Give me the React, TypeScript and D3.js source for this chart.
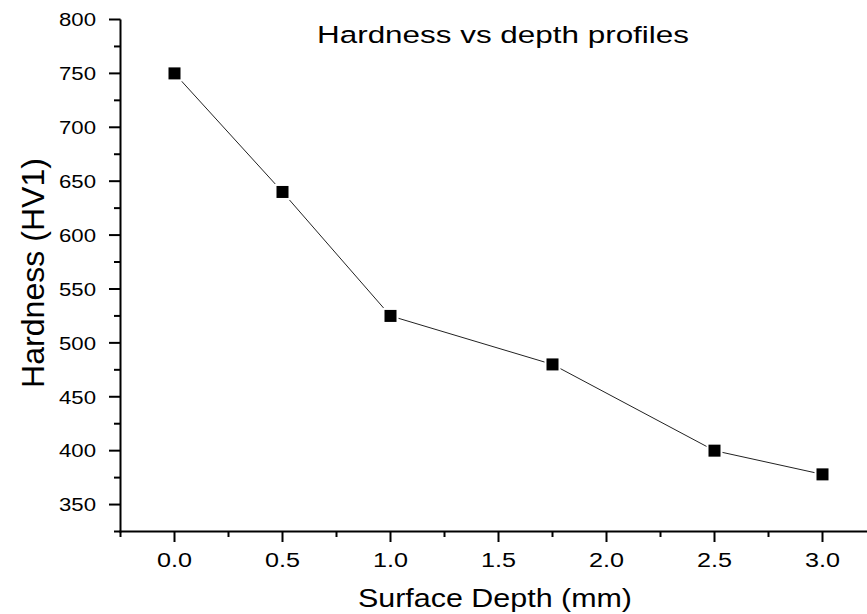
import React from "react";
import * as d3 from "d3";

const depths = [0, 0.5, 1.0, 1.75, 2.5, 3.0];
const hardness = [750, 640, 525, 480, 400, 378];
const xTicks = [0, 0.5, 1.0, 1.5, 2.0, 2.5, 3.0];
const yTicks = [350, 400, 450, 500, 550, 600, 650, 700, 750, 800];
const titleText = "Hardness vs depth profiles";
const xLabel = "Surface Depth (mm)";
const yLabel = "Hardness (HV1)";

const W = 867;
const H = 614;
const FONT = "'Liberation Sans', Arial, sans-serif";

export default function App() {
  const x = d3.scaleLinear().domain([-0.25, 3.25]).range([120.5, 876.5]);
  const y = d3.scaleLinear().domain([325, 800]).range([531.5, 19.5]);
  const line = d3
    .line<number>()
    .x((_, i) => x(depths[i]))
    .y((d) => y(d));

  const xMinor = d3.range(-0.25, 3.26, 0.25);
  const yMinor = d3.range(325, 801, 25);

  return (
    <svg
      width={W}
      height={H}
      style={{ position: "absolute", left: 0, top: 0, background: "#fff" }}
    >
      <rect width={W} height={H} fill="#fff" />
      {/* line */}
      <path d={line(hardness) || ""} fill="none" stroke="#222" strokeWidth={1} />
      {/* markers */}
      {hardness.map((v, i) => (
        <g key={i}>
          <rect x={x(depths[i]) - 8} y={y(v) - 8} width={16} height={16} fill="#fff" />
          <rect x={x(depths[i]) - 6} y={y(v) - 6} width={12} height={12} fill="#000" />
        </g>
      ))}
      {/* y axis */}
      <line x1={120.5} x2={120.5} y1={y(800)} y2={532.5} stroke="#000" strokeWidth={2} />
      {yMinor.map((t) => {
        const major = t % 50 === 0;
        return (
          <line
            key={"ym" + t}
            x1={120.5}
            x2={major ? 109 : 114}
            y1={y(t)}
            y2={y(t)}
            stroke="#000"
            strokeWidth={2}
          />
        );
      })}
      {yTicks.map((t) => (
        <text
          key={"yl" + t}
          x={59}
          y={y(t) + 6.8}
          textLength={37}
          lengthAdjust="spacingAndGlyphs"
          fontFamily={FONT}
          fontSize={19}
          fill="#000"
        >
          {t}
        </text>
      ))}
      {/* x axis */}
      <line x1={119.5} x2={W} y1={531.5} y2={531.5} stroke="#000" strokeWidth={2} />
      {xMinor.map((t) => {
        const major = Math.abs(t * 2 - Math.round(t * 2)) < 1e-6;
        return (
          <line
            key={"xm" + t}
            x1={x(t)}
            x2={x(t)}
            y1={531.5}
            y2={major ? 542 : 537}
            stroke="#000"
            strokeWidth={2}
          />
        );
      })}
      {xTicks.map((t) => (
        <text
          key={"xl" + t}
          x={x(t) - 17.5}
          y={566.5}
          textLength={35}
          lengthAdjust="spacingAndGlyphs"
          fontFamily={FONT}
          fontSize={20}
          fill="#000"
        >
          {t.toFixed(1)}
        </text>
      ))}
      {/* title */}
      <text
        x={317}
        y={42.7}
        textLength={372}
        lengthAdjust="spacingAndGlyphs"
        fontFamily={FONT}
        fontSize={24.5}
        fill="#000"
      >
        {titleText}
      </text>
      {/* x label */}
      <text
        x={358}
        y={606.5}
        textLength={274}
        lengthAdjust="spacingAndGlyphs"
        fontFamily={FONT}
        fontSize={25}
        fill="#000"
      >
        {xLabel}
      </text>
      {/* y label */}
      <text
        transform={`translate(43.5, 388) rotate(-90)`}
        textLength={230}
        lengthAdjust="spacingAndGlyphs"
        fontFamily={FONT}
        fontSize={30.5}
        fill="#000"
      >
        {yLabel}
      </text>
    </svg>
  );
}
